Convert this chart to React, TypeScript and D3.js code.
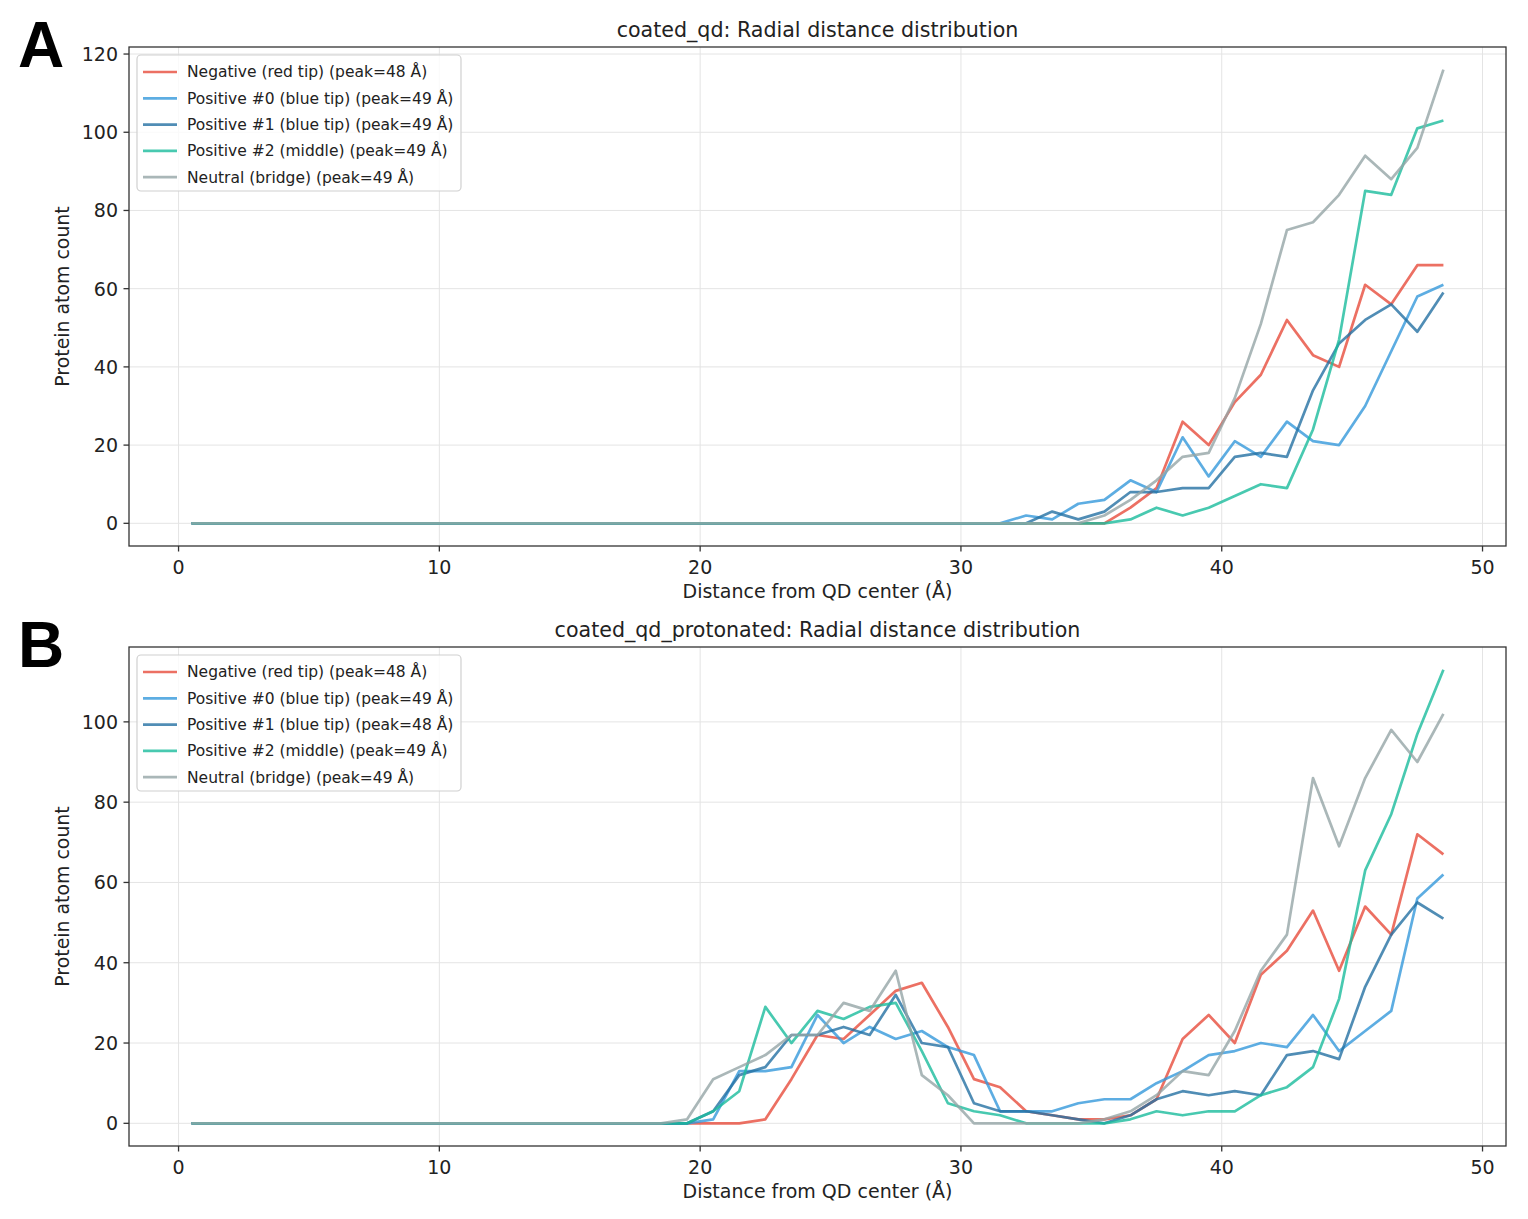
import React from 'react';
import * as d3 from 'd3';

// bin centres (Å)
const distance = [
  0.5, 1.5, 2.5, 3.5, 4.5, 5.5, 6.5, 7.5, 8.5, 9.5,
  10.5, 11.5, 12.5, 13.5, 14.5, 15.5, 16.5, 17.5, 18.5, 19.5,
  20.5, 21.5, 22.5, 23.5, 24.5, 25.5, 26.5, 27.5, 28.5, 29.5,
  30.5, 31.5, 32.5, 33.5, 34.5, 35.5, 36.5, 37.5, 38.5, 39.5,
  40.5, 41.5, 42.5, 43.5, 44.5, 45.5, 46.5, 47.5, 48.5,
];

const zeros = (n: number) => new Array(n).fill(0);

// panel A: coated_qd
const aNegative = [...zeros(36), 4, 9, 26, 20, 31, 38, 52, 43, 40, 61, 56, 66, 66];
const aPositive0 = [...zeros(32), 2, 1, 5, 6, 11, 8, 22, 12, 21, 17, 26, 21, 20, 30, 44, 58, 61];
const aPositive1 = [...zeros(33), 3, 1, 3, 8, 8, 9, 9, 17, 18, 17, 34, 46, 52, 56, 49, 59];
const aPositive2 = [...zeros(36), 1, 4, 2, 4, 7, 10, 9, 24, 47, 85, 84, 101, 103];
const aNeutral = [...zeros(35), 2, 6, 11, 17, 18, 32, 51, 75, 77, 84, 94, 88, 96, 116];

// panel B: coated_qd_protonated
const bNegative = [
  ...zeros(22), 1, 11, 22, 21, 27, 33, 35, 24, 11, 9, 3, 2, 1, 1, 2, 6,
  21, 27, 20, 37, 43, 53, 38, 54, 47, 72, 67,
];
const bPositive0 = [
  ...zeros(20), 1, 13, 13, 14, 27, 20, 24, 21, 23, 19, 17, 3, 3, 3, 5, 6, 6, 10,
  13, 17, 18, 20, 19, 27, 18, 23, 28, 56, 62,
];
const bPositive1 = [
  ...zeros(20), 3, 12, 14, 22, 22, 24, 22, 32, 20, 19, 5, 3, 3, 2, 1, 0, 2, 6,
  8, 7, 8, 7, 17, 18, 16, 34, 47, 55, 51,
];
const bPositive2 = [
  ...zeros(20), 3, 8, 29, 20, 28, 26, 29, 30, 18, 5, 3, 2, 0, 0, 0, 0, 1, 3,
  2, 3, 3, 7, 9, 14, 31, 63, 77, 97, 113,
];
const bNeutral = [
  ...zeros(19), 1, 11, 14, 17, 22, 22, 30, 28, 38, 12, 7, 0, 0, 0, 0, 0, 1, 3, 7,
  13, 12, 23, 38, 47, 86, 69, 86, 98, 90, 102,
];

const seriesNames = [
  'Negative (red tip)',
  'Positive #0 (blue tip)',
  'Positive #1 (blue tip)',
  'Positive #2 (middle)',
  'Neutral (bridge)',
];
const seriesColors = ['#e74c3c', '#3498db', '#2471a3', '#1abc9c', '#95a5a6'];
const peaksA = [48, 49, 49, 49, 49];
const peaksB = [48, 49, 48, 49, 49];
const xTickValues = [0, 10, 20, 30, 40, 50];

const FONT = '"DejaVu Sans", sans-serif';

interface PanelProps {
  top: number;
  label: string;
  title: string;
  series: number[][];
  peaks: number[];
}

const left = 129;
const right = 1506;
const plotHeight = 499;

const Panel: React.FC<PanelProps> = ({ top, label, title, series, peaks }) => {
  const bottom = top + plotHeight;

  // matplotlib style 5% margins
  const xExt = d3.extent(distance) as [number, number];
  const xPad = (xExt[1] - xExt[0]) * 0.05;
  const x = d3.scaleLinear().domain([xExt[0] - xPad, xExt[1] + xPad]).range([left, right]);

  const yMax = d3.max(series, s => d3.max(s)) || 0;
  const yPad = yMax * 0.05;
  const y = d3.scaleLinear().domain([-yPad, yMax + yPad]).range([bottom, top]);
  const yTickValues = d3.range(0, yMax + yPad, 20);

  const line = d3.line<number>()
    .x((_, i) => x(distance[i]))
    .y(d => y(d));

  const legendX = left + 8;
  const legendY = top + 8;
  const rowH = 26.3;

  return (
    <g>
      <text x={18} y={top + 20} fontFamily='"Liberation Sans", Arial, sans-serif' fontWeight="bold" fontSize={64} fill="#000">
        {label}
      </text>
      <text x={(left + right) / 2} y={top - 10} textAnchor="middle" fontFamily={FONT} fontSize={20.6} fill="#222">
        {title}
      </text>

      {/* grid */}
      <g stroke="#e4e4e4" strokeWidth={1}>
        {xTickValues.map(t => (
          <line key={'gx' + t} x1={x(t)} x2={x(t)} y1={top} y2={bottom} />
        ))}
        {yTickValues.map(t => (
          <line key={'gy' + t} x1={left} x2={right} y1={y(t)} y2={y(t)} />
        ))}
      </g>

      {/* data */}
      <g fill="none" strokeWidth={2.7} strokeLinejoin="round" strokeOpacity={0.8}>
        {series.map((s, i) => (
          <path key={i} d={line(s) || ''} stroke={seriesColors[i]} />
        ))}
      </g>

      {/* frame */}
      <rect x={left} y={top} width={right - left} height={bottom - top} fill="none" stroke="#333" strokeWidth={1.3} />

      {/* x ticks */}
      {xTickValues.map(t => (
        <g key={'xt' + t} transform={`translate(${x(t)},${bottom})`}>
          <line y2={5.5} stroke="#333" strokeWidth={1.3} />
          <text y={27.5} textAnchor="middle" fontFamily={FONT} fontSize={19} fill="#222">{t}</text>
        </g>
      ))}
      {/* y ticks */}
      {yTickValues.map(t => (
        <g key={'yt' + t} transform={`translate(${left},${y(t)})`}>
          <line x2={-5.5} stroke="#333" strokeWidth={1.3} />
          <text x={-11} dy="0.36em" textAnchor="end" fontFamily={FONT} fontSize={19} fill="#222">{t}</text>
        </g>
      ))}

      <text x={(left + right) / 2} y={bottom + 52} textAnchor="middle" fontFamily={FONT} fontSize={19} fill="#222">
        Distance from QD center (Å)
      </text>
      <text
        transform={`translate(69,${(top + bottom) / 2}) rotate(-90)`}
        textAnchor="middle"
        fontFamily={FONT}
        fontSize={18.9}
        fill="#222"
      >
        Protein atom count
      </text>

      {/* legend */}
      <rect x={legendX} y={legendY} width={324} height={136} rx={4} fill="#fff" fillOpacity={0.8} stroke="#d0d0d0" strokeWidth={1.2} />
      {seriesNames.map((name, i) => {
        const ry = legendY + 17 + i * rowH;
        return (
          <g key={'lg' + i}>
            <line x1={legendX + 6} x2={legendX + 40} y1={ry} y2={ry} stroke={seriesColors[i]} strokeOpacity={0.8} strokeWidth={2.7} />
            <text x={legendX + 50} y={ry} dy="0.35em" fontFamily={FONT} fontSize={15.5} fill="#222">
              {`${name} (peak=${peaks[i]} Å)`}
            </text>
          </g>
        );
      })}
    </g>
  );
};

const App: React.FC = () => {
  return (
    <svg width={1528} height={1219} style={{ position: 'absolute', left: 0, top: 0, background: '#fff' }}>
      <rect width={1528} height={1219} fill="#fff" />
      <Panel
        top={47}
        label="A"
        title="coated_qd: Radial distance distribution"
        series={[aNegative, aPositive0, aPositive1, aPositive2, aNeutral]}
        peaks={peaksA}
      />
      <Panel
        top={647}
        label="B"
        title="coated_qd_protonated: Radial distance distribution"
        series={[bNegative, bPositive0, bPositive1, bPositive2, bNeutral]}
        peaks={peaksB}
      />
    </svg>
  );
};

export default App;
